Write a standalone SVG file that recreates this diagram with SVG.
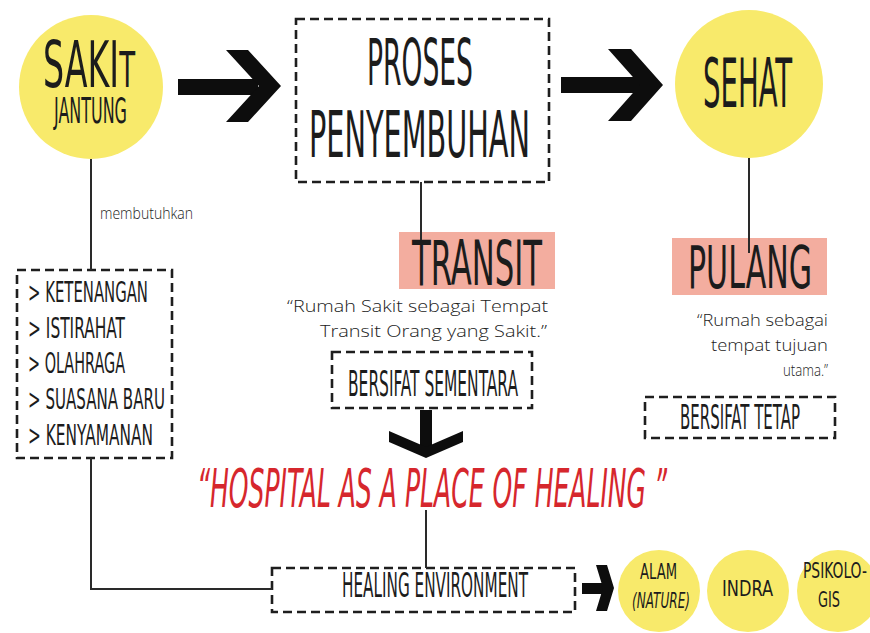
<svg xmlns="http://www.w3.org/2000/svg" width="870" height="633" viewBox="0 0 870 633">
<style>
.h{font-family:"DejaVu Sans Condensed","DejaVu Sans",sans-serif;fill:#1c1c1c}
.q{font-family:"Open Sans","DejaVu Sans",sans-serif;font-weight:300;fill:#222;font-size:17px}
.box{fill:none;stroke:#1e1e1e;stroke-width:2.6;stroke-dasharray:9 5}
.yc{fill:#f8ea6b}
.hl{fill:#f3ad9f}
.ln{stroke:#2a2a2a;stroke-width:2;fill:none}
.ar{fill:#0d0d0d}
</style>
<rect width="870" height="633" fill="#ffffff"/>

<g id="sakit-jantung">
<circle class="yc" cx="91" cy="87" r="72"/>
<text class="h" transform="scale(0.5,1)" x="86" y="87" font-size="64" textLength="184" lengthAdjust="spacingAndGlyphs">SAKI<tspan font-size="50">T</tspan></text>
<text class="h" transform="scale(0.5,1)" x="108" y="123" font-size="36" textLength="146" lengthAdjust="spacingAndGlyphs">JANTUNG</text>
</g>

<g id="arrow-1">
<rect class="ar" x="178" y="79" width="80" height="16"/>
<polygon class="ar" points="226,50 248,50 281,86 248,122 226,122 259,86"/>
</g>

<g id="proses-penyembuhan">
<rect class="box" x="296" y="19" width="253" height="163"/>
<text class="h" transform="scale(0.5,1)" x="734" y="85" font-size="64" textLength="212" lengthAdjust="spacingAndGlyphs">PROSES</text>
<text class="h" transform="scale(0.5,1)" x="618" y="157" font-size="64" textLength="442" lengthAdjust="spacingAndGlyphs">PENYEMBUHAN</text>
</g>

<g id="arrow-2">
<rect class="ar" x="561" y="77" width="80" height="16"/>
<polygon class="ar" points="608,49 631,49 663,85 631,121 608,121 640,85"/>
</g>

<g id="sehat">
<circle class="yc" cx="749" cy="84" r="74"/>
<text class="h" transform="scale(0.5,1)" x="1406" y="107" font-size="67" textLength="178" lengthAdjust="spacingAndGlyphs">SEHAT</text>
</g>

<g id="membutuhkan">
<text class="q" x="100" y="219" font-size="14" textLength="93" lengthAdjust="spacingAndGlyphs">membutuhkan</text>
</g>

<g id="kebutuhan-list">
<rect class="box" x="17" y="270" width="155" height="188"/>
<text class="h" transform="scale(0.5,1)" x="56" y="302" font-size="28" textLength="240" lengthAdjust="spacingAndGlyphs">&gt; KETENANGAN</text>
<text class="h" transform="scale(0.5,1)" x="56" y="338" font-size="28" textLength="194" lengthAdjust="spacingAndGlyphs">&gt; ISTIRAHAT</text>
<text class="h" transform="scale(0.5,1)" x="56" y="373" font-size="28" textLength="194" lengthAdjust="spacingAndGlyphs">&gt; OLAHRAGA</text>
<text class="h" transform="scale(0.5,1)" x="56" y="409" font-size="28" textLength="274" lengthAdjust="spacingAndGlyphs">&gt; SUASANA BARU</text>
<text class="h" transform="scale(0.5,1)" x="56" y="445" font-size="28" textLength="250" lengthAdjust="spacingAndGlyphs">&gt; KENYAMANAN</text>
</g>

<g id="transit">
<rect class="hl" x="399" y="232" width="156" height="57"/>
<text class="h" transform="scale(0.5,1)" x="824" y="285" font-size="62" textLength="260" lengthAdjust="spacingAndGlyphs">TRANSIT</text>
<text class="q" x="287" y="312" textLength="261" lengthAdjust="spacingAndGlyphs">“Rumah Sakit sebagai Tempat</text>
<text class="q" x="320" y="337" textLength="227" lengthAdjust="spacingAndGlyphs">Transit Orang yang Sakit.”</text>
</g>

<g id="bersifat-sementara">
<rect class="box" x="332" y="352" width="200" height="56"/>
<text class="h" transform="scale(0.5,1)" x="696" y="396" font-size="35" textLength="340" lengthAdjust="spacingAndGlyphs">BERSIFAT SEMENTARA</text>
</g>

<g id="pulang">
<rect class="hl" x="672" y="238" width="155" height="57"/>
<text class="h" transform="scale(0.5,1)" x="1376" y="288" font-size="59" textLength="248" lengthAdjust="spacingAndGlyphs">PULANG</text>
<text class="q" x="697" y="326" textLength="131" lengthAdjust="spacingAndGlyphs">“Rumah sebagai</text>
<text class="q" x="711" y="351" textLength="117" lengthAdjust="spacingAndGlyphs">tempat tujuan</text>
<text class="q" x="783" y="376" textLength="45" lengthAdjust="spacingAndGlyphs">utama.”</text>
</g>

<g id="bersifat-tetap">
<rect class="box" x="645" y="397" width="190" height="41"/>
<text class="h" transform="scale(0.5,1)" x="1360" y="429" font-size="33" textLength="240" lengthAdjust="spacingAndGlyphs">BERSIFAT TETAP</text>
</g>

<g id="arrow-down">
<rect class="ar" x="420" y="410" width="12" height="38"/>
<polygon class="ar" points="389,431 426,447 463,431 463,442 426,458 389,442"/>
</g>

<g id="hospital-title">
<text class="h" transform="scale(0.5,1)" x="394" y="507" font-size="53" font-style="italic" style="fill:#d6272d" textLength="940" lengthAdjust="spacingAndGlyphs">“HOSPITAL AS A PLACE OF HEALING ”</text>
</g>

<g id="healing-environment">
<rect class="box" x="272" y="568" width="303" height="44"/>
<text class="h" transform="scale(0.5,1)" x="684" y="597" font-size="33" textLength="372" lengthAdjust="spacingAndGlyphs">HEALING ENVIRONMENT</text>
</g>

<g id="arrow-3">
<rect class="ar" x="582" y="583" width="23" height="11"/>
<polygon class="ar" points="596,565 607,565 614,588 607,611 596,611 603,588"/>
</g>

<g id="alam">
<circle class="yc" cx="659" cy="591" r="41"/>
<text class="h" transform="scale(0.5,1)" x="1280" y="579" font-size="21" textLength="74" lengthAdjust="spacingAndGlyphs">ALAM</text>
<text class="h" transform="scale(0.5,1)" x="1264" y="608" font-size="21" font-style="italic" textLength="116" lengthAdjust="spacingAndGlyphs">(NATURE)</text>
</g>

<g id="indra">
<circle class="yc" cx="748" cy="591" r="41"/>
<text class="h" transform="scale(0.5,1)" x="1444" y="596" font-size="22" textLength="102" lengthAdjust="spacingAndGlyphs">INDRA</text>
</g>

<g id="psikologis">
<circle class="yc" cx="838" cy="591" r="41"/>
<text class="h" transform="scale(0.5,1)" x="1606" y="578" font-size="21" textLength="128" lengthAdjust="spacingAndGlyphs">PSIKOLO-</text>
<text class="h" transform="scale(0.5,1)" x="1636" y="607" font-size="21" textLength="44" lengthAdjust="spacingAndGlyphs">GIS</text>
</g>

<g id="connectors">
<line class="ln" x1="91" y1="159" x2="91" y2="270"/>
<polyline class="ln" points="91,458 91,589 272,589"/>
<line class="ln" x1="421" y1="182" x2="421" y2="240"/>
<line class="ln" x1="749" y1="158" x2="749" y2="253"/>
<line class="ln" x1="426" y1="510" x2="426" y2="568"/>
</g>
</svg>
